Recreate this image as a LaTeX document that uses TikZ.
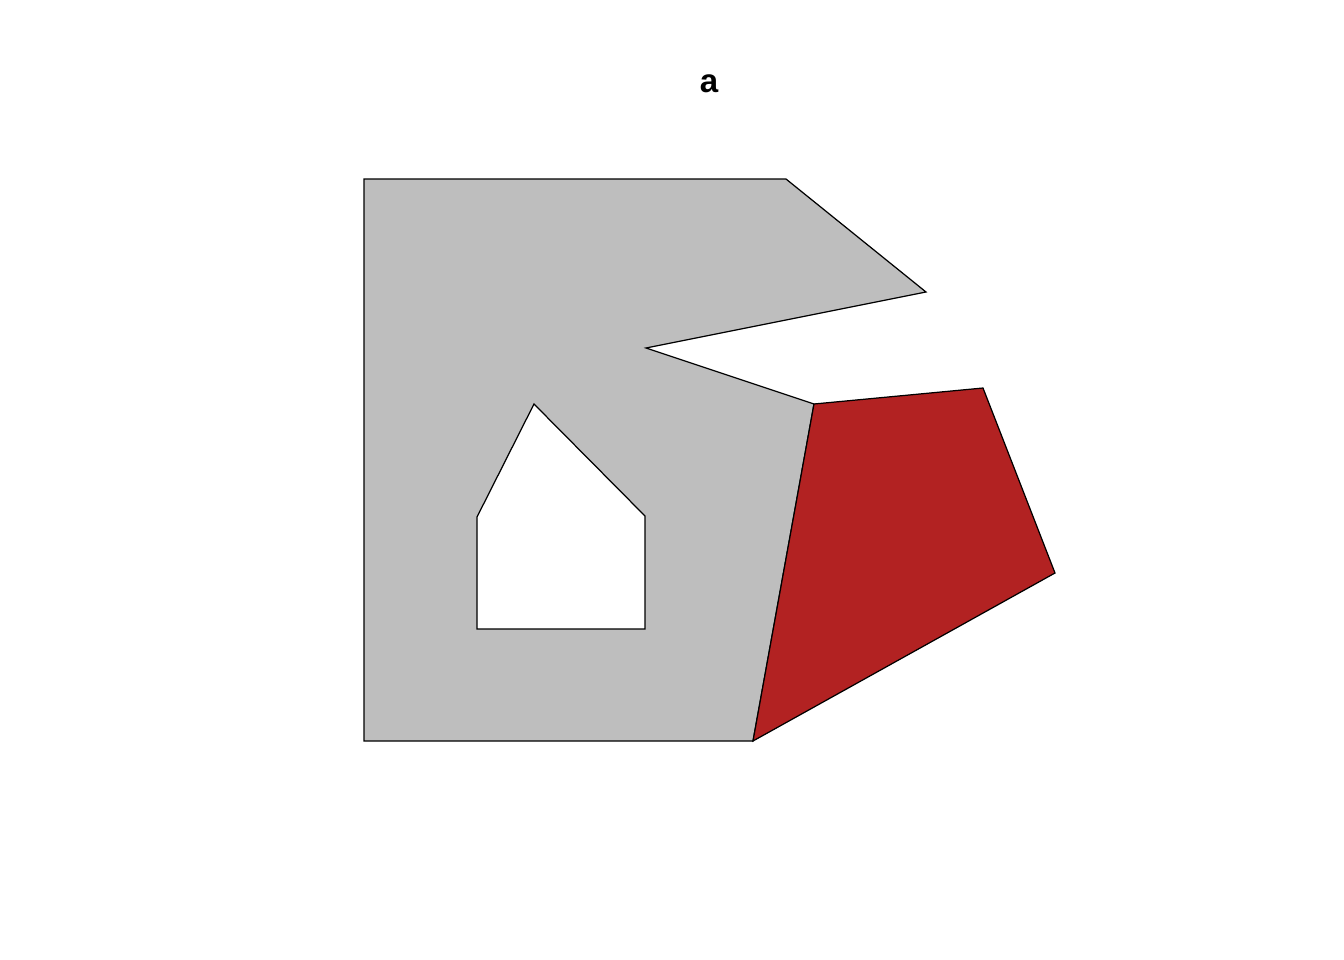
\documentclass[tikz,border=0pt]{standalone}
\usepackage{fontspec}
\setmainfont{Liberation Sans}
\definecolor{polygray}{HTML}{BEBEBE}
\definecolor{polyred}{HTML}{B22222}
\begin{document}
\begin{tikzpicture}[x=0.01cm,y=-0.01cm,
  poly/.style={draw=black,line width=0.35pt,line join=miter},
  titletext/.style={font=\fontsize{9.4}{11}\selectfont\bfseries,inner sep=0pt}]
\useasboundingbox (0,0) rectangle (1344,960);
% gray polygon with hole
\fill[polygray,even odd rule]
  (364,179) -- (786,179) -- (926,292) -- (646,348) -- (814,404) -- (753,741) -- (364,741) -- cycle
  (534,404) -- (645,516) -- (645,629) -- (477,629) -- (477,517) -- cycle;
\draw[poly] (364,179) -- (786,179) -- (926,292) -- (646,348) -- (814,404) -- (753,741) -- (364,741) -- cycle;
\draw[poly] (534,404) -- (645,516) -- (645,629) -- (477,629) -- (477,517) -- cycle;
% red polygon
\draw[poly,fill=polyred] (814,404) -- (983,388) -- (1055,573) -- (753,741) -- cycle;
\node[titletext,anchor=base] (title) at (709,92) {a};
\end{tikzpicture}
\end{document}
